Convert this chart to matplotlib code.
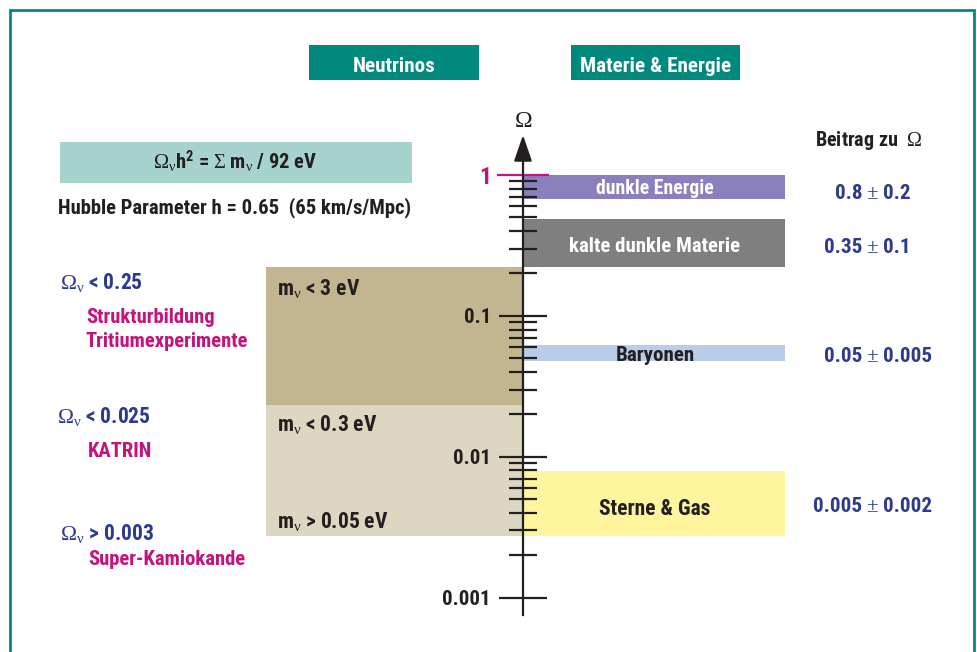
import matplotlib
matplotlib.use('Agg')
import matplotlib.pyplot as plt
from matplotlib import font_manager as fm
from matplotlib.patches import Rectangle
from matplotlib.ticker import NullFormatter

# ---------------- data ----------------
tick_values = [0.001, 0.01, 0.1, 1.0]
tick_labels = ['0.001', '0.01', '0.1', '1']
minor_tick_values = [0.002, 0.003, 0.004, 0.005, 0.006, 0.007, 0.008, 0.009,
                     0.02, 0.03, 0.04, 0.05, 0.06, 0.07, 0.08, 0.09,
                     0.2, 0.3, 0.4, 0.5, 0.6, 0.7, 0.8, 0.9]

band_names = ['dunkle Energie', 'kalte dunkle Materie', 'Baryonen', 'Sterne & Gas']
band_hi = [1.0, 0.487, 0.0621, 0.00793]
band_lo = [0.68, 0.222, 0.0479, 0.00274]
band_value = ['0.8', '0.35', '0.05', '0.005']
band_error = ['0.2', '0.1', '0.005', '0.002']

nu_box_hi = [0.222, 0.0233]
nu_box_lo = [0.0233, 0.00274]
nu_mass_labels = [r'm$_\nu$ < 3 eV', r'm$_\nu$ < 0.3 eV', r'm$_\nu$ > 0.05 eV']

omega_limits = [r'$\Omega_\nu$ < 0.25', r'$\Omega_\nu$ < 0.025', r'$\Omega_\nu$ > 0.003']
limit_sources = [['Strukturbildung', 'Tritiumexperimente'], ['KATRIN'], ['Super-Kamiokande']]

# ---------------- fonts ----------------
names = {f.name for f in fm.fontManager.ttflist}
if 'Roboto Condensed' in names:
    FAM, STRETCH, K = 'Roboto Condensed', 'normal', 1.0
elif 'Liberation Sans Narrow' in names:
    FAM, STRETCH, K = 'Liberation Sans Narrow', 'normal', 1.05
else:
    FAM, STRETCH, K = 'DejaVu Sans', 'condensed', 0.85
SERIF = 'Liberation Serif' if 'Liberation Serif' in names else 'DejaVu Serif'

plt.rcParams.update({
    'font.family': [FAM, 'DejaVu Sans'],
    'font.weight': 'bold',
    'font.stretch': STRETCH,
    'mathtext.fontset': 'custom',
    'mathtext.rm': SERIF + ':weight=normal',
    'mathtext.it': SERIF + ':weight=normal',
    'mathtext.bf': SERIF + ':weight=bold',
    'mathtext.default': 'rm',
})

TEAL = '#00897c'
NAVY = '#2e3a8f'
MAGENTA = '#c4147c'
DARK = '#231f20'
band_colors = ['#8a80bd', '#7f7f7f', '#bacde8', '#fff59d']
band_text_colors = ['white', 'white', DARK, DARK]
nu_colors = ['#c3b590', '#ddd6c0']

W, H = 978, 652
fig = plt.figure(figsize=(W / 100, H / 100), dpi=100)

# log axis (pixel x, log y)
D = 140.9       # pixels per decade
Y1 = 175.0      # pixel row of Omega = 1
def v(p):
    return 10 ** ((Y1 - p) / D)

ax = fig.add_axes([0, 0, 1, 1], zorder=0)
ax.set_yscale('log')
AX_X = 523

# bands (Materie & Energie)
for lo, hi, c in zip(band_lo, band_hi, band_colors):
    ax.bar(AX_X, hi - lo, bottom=lo, width=785 - AX_X, align='edge', color=c,
           linewidth=0, zorder=1)
# neutrino boxes
for lo, hi, c in zip(nu_box_lo, nu_box_hi, nu_colors):
    ax.bar(266, hi - lo, bottom=lo, width=AX_X - 266, align='edge', color=c,
           linewidth=0, zorder=1)

ax.set_xlim(0, W)
ax.set_ylim(v(H), v(0))
ax.patch.set_visible(False)
ax.xaxis.set_visible(False)
for s in ['top', 'right', 'bottom']:
    ax.spines[s].set_visible(False)
sp = ax.spines['left']
sp.set_position(('data', AX_X))
sp.set_bounds(v(615), v(150))
sp.set_linewidth(1.6)
sp.set_color(DARK)

ax.set_yticks(tick_values, tick_labels)
ax.set_yticks(minor_tick_values, minor=True)
ax.yaxis.set_minor_formatter(NullFormatter())
ax.tick_params(axis='y', which='major', direction='inout', length=34.5, width=1.6,
               pad=5.8, labelsize=15.0 * K, color=DARK, labelcolor=DARK)
ax.tick_params(axis='y', which='minor', direction='inout', length=20, width=1.6,
               color=DARK)
t1 = ax.yaxis.get_major_ticks()[-1]
t1.tick1line.set_markeredgecolor(MAGENTA)
t1.tick1line.set_markersize(37)
t1.label1.set_color(MAGENTA)
t1.label1.set_fontsize(17 * K)

ax.annotate('', xy=(AX_X, v(135)), xytext=(AX_X, v(152)),
            arrowprops=dict(arrowstyle='-|>,head_length=1.6,head_width=0.55',
                            color=DARK, lw=1.6, shrinkA=0, shrinkB=0,
                            mutation_scale=10))

# overlay in pixel coordinates
ov = fig.add_axes([0, 0, 1, 1], zorder=1)
ov.set_xlim(0, W)
ov.set_ylim(H, 0)
ov.axis('off')
ov.patch.set_visible(False)

# frame
ov.plot([10, 10, 974, 974], [H + 20, 10, 10, H + 20], color=TEAL, lw=2,
        clip_on=False, solid_joinstyle='miter')

def T(x, y, s, size, color=DARK, ha='left', va='baseline', **kw):
    ov.text(x, y, s, fontsize=size * K, color=color, ha=ha, va=va, **kw)

# headers
ov.add_patch(Rectangle((309, 45), 170, 35, color=TEAL, lw=0))
ov.add_patch(Rectangle((571, 45), 169, 35, color=TEAL, lw=0))
T(394, 72, 'Neutrinos', 15.2, 'white', ha='center')
T(655.5, 72, 'Materie & Energie', 15.2, 'white', ha='center')

# formula
ov.add_patch(Rectangle((60, 142), 352, 41, color='#a7d3cf', lw=0))
T(153, 169, r'$\Omega_\nu$h$^{\mathregular{2}}$ = $\Sigma$ m$_\nu$ / 92 eV', 14.8)
T(58, 213, 'Hubble Parameter h = 0.65  (65 km/s/Mpc)', 14.9)

# axis label
T(AX_X, 127, r'$\Omega$', 17, ha='center')

# left limits
lim_xy = [(60, 289), (57, 423), (60, 540)]
src_xy = [(86, 323), (88, 457), (88, 565)]
for (x, y), s in zip(lim_xy, omega_limits):
    T(x, y, s, 15.5, NAVY)
for (x, y), lines in zip(src_xy, limit_sources):
    for i, s in enumerate(lines):
        T(x, y + 24 * i, s, 14.9, MAGENTA)

# neutrino mass labels
for y, s in zip([295, 431.5, 528], nu_mass_labels):
    T(277, y, s, 15.5)

# band labels
for y, s, c, fsz in zip([194, 251.5, 361, 515], band_names, band_text_colors,
                        [14.2, 15.0, 15.1, 15.5]):
    T(655, y, s, fsz, c, ha='center')

# contributions
T(815, 146.5, r'Beitrag zu  $\Omega$', 14.5)
for y, a, b in zip([199, 253, 362.5, 512.5], band_value, band_error):
    T(862, y, a, 15.2, NAVY, ha='right')
    T(872.5, y, r'$\pm$', 15.2, NAVY, ha='center')
    T(883, y, b, 15.2, NAVY, ha='left')

fig.savefig('out.png', dpi=100)
